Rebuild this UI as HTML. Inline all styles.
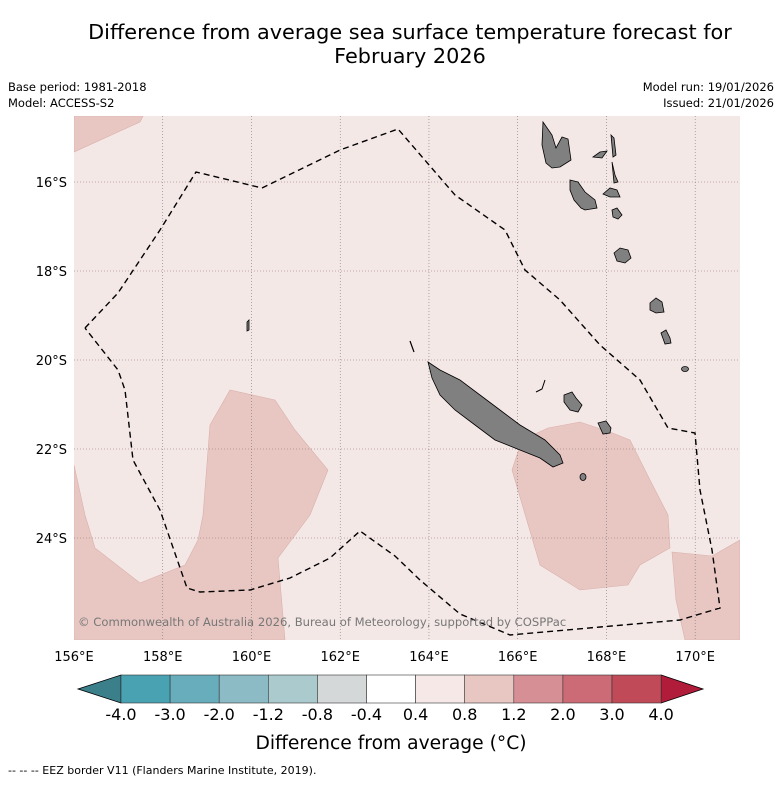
<!DOCTYPE html>
<html><head><meta charset="utf-8"><style>
body{margin:0;background:#fff;width:781px;height:781px;overflow:hidden;font-family:"Liberation Sans","DejaVu Sans",sans-serif}
svg text{font-family:"DejaVu Sans","Liberation Sans",sans-serif}
</style></head><body>
<svg id="c" width="781" height="781" viewBox="0 0 781 781">
<text x="410" y="39" font-size="20.8" text-anchor="middle">Difference from average sea surface temperature forecast for</text>
<text x="410" y="63" font-size="20.8" text-anchor="middle">February 2026</text>
<text x="8" y="91" font-size="11.5">Base period: 1981-2018</text>
<text x="8" y="107" font-size="11.5">Model: ACCESS-S2</text>
<text x="774" y="91" font-size="11.5" text-anchor="end">Model run: 19/01/2026</text>
<text x="774" y="107" font-size="11.5" text-anchor="end">Issued: 21/01/2026</text>
<defs><clipPath id="mc"><rect x="74" y="116" width="666" height="524"/></clipPath></defs>
<g clip-path="url(#mc)">
<rect x="74" y="116" width="666" height="524" fill="#f4e8e7"/>
<g fill="#e8c7c3" stroke="#d9b0ab" stroke-width="0.6">
<polygon points="74,116 143,116 140,122 74,152"/>
<polygon points="74,465 85,515 95,548 140,583 185,565 198,540 203,515 210,425 230,390 275,400 295,430 328,470 310,515 278,558 285,640 74,640"/>
<polygon points="512,470 522,440 548,428 580,422 610,432 630,440 650,480 668,515 670,548 640,565 628,585 580,590 540,565"/>
<polygon points="672,552 712,556 740,540 740,640 685,640 676,600"/>
</g>
<g id="grid"></g>
<g fill="#808080" stroke="#000" stroke-width="0.8">
<polygon points="428,362 440,370 460,380 480,395 500,410 520,425 545,440 560,455 563,463 553,467 540,458 520,450 495,440 475,425 455,410 440,395 432,378"/>
<polygon points="543,122 552,135 556,148 562,137 568,139 571,160 560,167 552,168 546,163 542,145"/>
<polygon points="570,180 578,182 585,192 595,200 597,208 585,210 581,208 574,200 570,190"/>
<polygon points="611,135 614,138 616,155 613,157"/>
<polygon points="593,157 600,152 607,151 602,158"/>
<polygon points="612,162 615,175 618,182 614,183"/>
<polygon points="603,194 610,188 617,190 620,197 610,197"/>
<polygon points="612,210 617,208 622,215 618,219 613,217"/>
<polygon points="614,253 620,248 628,250 631,258 625,263 617,261"/>
<polygon points="650,303 656,298 662,302 664,312 656,313 650,310"/>
<polygon points="661,333 666,330 670,338 671,343 665,344"/>
<ellipse cx="685" cy="369" rx="3.5" ry="2.5"/>
<polygon points="564,395 572,392 576,398 582,405 578,412 570,410 564,402"/>
<polygon points="598,423 606,421 611,428 610,433 603,434"/>
<ellipse cx="583" cy="477" rx="3" ry="3.5"/>
<polygon points="247,322 249,320 249,330 247,331"/>
</g>
<path d="M536,392 L542,389 L545,380" fill="none" stroke="#000" stroke-width="1"/>
<path d="M410,341 L414,352" fill="none" stroke="#000" stroke-width="1.2"/>
<polyline fill="none" stroke="#000" stroke-width="1.4" stroke-dasharray="6,4" points="85,328 118,293 160,230 196,172 262,188 340,150 398,129 455,195 505,230 525,270 560,300 600,345 640,380 668,428 695,433 700,490 712,550 720,608 680,620 600,627 510,635 460,614 420,580 395,556 360,531 330,558 290,578 250,590 200,592 187,588 160,510 133,460 125,390 118,370 85,328"/>
<text x="78" y="626" font-size="11.6" fill="#777">© Commonwealth of Australia 2026, Bureau of Meteorology, supported by COSPPac</text>
</g>
<g id="axes"></g>
<g id="cbar"></g>
<text x="391" y="749" font-size="18.7" text-anchor="middle">Difference from average (°C)</text>
<text x="8" y="774" font-size="11">--  --  -- EEZ border V11 (Flanders Marine Institute, 2019).</text>
</svg>
<script>
const lonTicks=[156,158,160,162,164,166,168,170];
const latTicks=[16,18,20,22,24];
const cbLevels=["-4.0","-3.0","-2.0","-1.2","-0.8","-0.4","0.4","0.8","1.2","2.0","3.0","4.0"];
const cbColors=["#48a2b2","#68adbb","#8cbac5","#aacacd","#d4d8d9","#ffffff","#f5e8e7","#e8c7c3","#d68f95","#cc6b75","#c04a58"];
const cbUnder="#3a7f8a", cbOver="#b01c3a";
const NS="http://www.w3.org/2000/svg";
function xLon(l){return 74+(l-156)*44.37;}
function yLat(l){return 182+(l-16)*44.5;}
function mk(t,a,p){const e=document.createElementNS(NS,t);for(const k in a)e.setAttribute(k,a[k]);p.appendChild(e);return e;}
const grid=document.getElementById('grid'),axes=document.getElementById('axes'),cb=document.getElementById('cbar');
lonTicks.forEach(l=>{const x=xLon(l);
 if(l>156){const g=mk('line',{x1:x,x2:x,y1:116,y2:640,stroke:'#777','stroke-width':0.6,'stroke-dasharray':'1,2'},grid);
 
 }
 const t=mk('text',{x:x,y:661,'font-size':13,'text-anchor':'middle'},axes);t.textContent=l+'°E';
 
 });
latTicks.forEach(l=>{const y=yLat(l);
 const g=mk('line',{x1:74,x2:740,y1:y,y2:y,stroke:'#8a6a6a','stroke-width':0.6,'stroke-dasharray':'1,2'},grid);
 
 
 const t=mk('text',{x:67,y:y+5,'font-size':13,'text-anchor':'end'},axes);t.textContent=l+'°S';
 
 });
function xCb(i){return 121+i*49.1;}
const y0=675,y1=703;
const tu=mk('polygon',{points:`78,689 ${xCb(0)},${y0} ${xCb(0)},${y1}`,fill:cbUnder,stroke:'#000','stroke-width':0.8},cb);


const n=cbLevels.length-1;
const to=mk('polygon',{points:`${xCb(n)},${y0} 703,689 ${xCb(n)},${y1}`,fill:cbOver,stroke:'#000','stroke-width':0.8},cb);


cbColors.forEach((c,i)=>{const r=mk('rect',{x:xCb(i),y:y0,width:xCb(i+1)-xCb(i),height:y1-y0,fill:c,stroke:'#333','stroke-width':0.6},cb);
 
 });
cbLevels.forEach((s,i)=>{const t=mk('text',{x:xCb(i),y:720,'font-size':16,'text-anchor':'middle'},cb);t.textContent=s;
 
 });
</script>
</body></html>
